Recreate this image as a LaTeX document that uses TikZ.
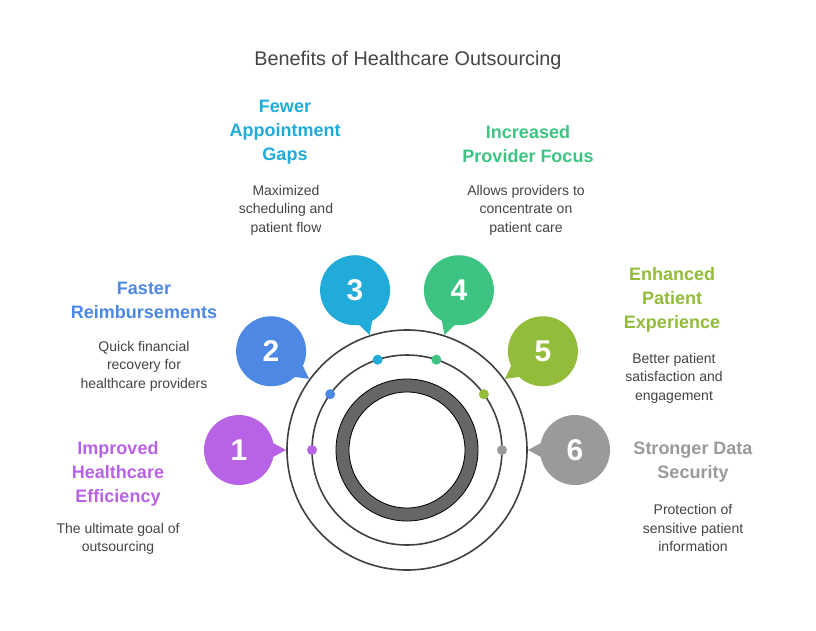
\documentclass[tikz,border=0pt]{standalone}
\usepackage{fontspec}
\usetikzlibrary{calc}
\setmainfont{Liberation Sans}
\definecolor{cA}{HTML}{B862E6}
\definecolor{cB}{HTML}{4C88E4}
\definecolor{cC}{HTML}{21ABD9}
\definecolor{cD}{HTML}{3DC483}
\definecolor{cE}{HTML}{92BC3A}
\definecolor{cF}{HTML}{9A9A9A}
\definecolor{txt}{HTML}{444444}
\begin{document}
\begin{tikzpicture}[x=1pt,y=-1pt,
  head/.style={font=\fontsize{18}{24}\selectfont\bfseries,align=center},
  desc/.style={font=\fontsize{14}{18.5}\selectfont,text=txt,align=center},
  num/.style={font=\fontsize{30}{30}\selectfont\bfseries,text=white}]
\fill[white] (0,0) rectangle (816,630);
\useasboundingbox (0,0) rectangle (816,630);
\coordinate (c) at (407,450);
\node[font=\fontsize{19.8}{24}\selectfont,text=txt] (title) at (408,60) {Benefits of Healthcare Outsourcing};
\draw[line width=1.6pt,draw=black!75] (c) circle[radius=120];
\draw[line width=1.6pt,draw=black!75] (c) circle[radius=95];
\draw[line width=0.8pt,fill=black!60,even odd rule] (c) circle[radius=71] (c) circle[radius=58];
\foreach \i/\a/\col in {1/180/cA,2/144/cB,3/108/cC,4/72/cD,5/36/cE,6/0/cF}{
  \fill[\col] ($(c)+(-\a:168)$) circle[radius=35];
  \fill[\col] ($(c)+(-\a:121)$) -- ($(c)+(-\a+5:145)$) -- ($(c)+(-\a-5:145)$) -- cycle;
  \node[num] (n\i) at ($(c)+(-\a:168)$) {\i};
  \fill[\col] ($(c)+(-\a:95)$) circle[radius=5];
}
\node[head,text=cA] (h1) at (118,474) {Improved\\Healthcare\\Efficiency};
\node[desc] (d1) at (118,539) {The ultimate goal of\\outsourcing};
\node[head,text=cB] (h2) at (144,300) {Faster\\Reimbursements};
\node[desc] (d2) at (144,366) {Quick financial\\recovery for\\healthcare providers};
\node[head,text=cC] (h3) at (285,132) {Fewer\\Appointment\\Gaps};
\node[desc] (d3) at (286,210) {Maximized\\scheduling and\\patient flow};
\node[head,text=cD] (h4) at (528,144) {Increased\\Provider Focus};
\node[desc] (d4) at (526,210) {Allows providers to\\concentrate on\\patient care};
\node[head,text=cE] (h5) at (672,300) {Enhanced\\Patient\\Experience};
\node[desc] (d5) at (674,378) {Better patient\\satisfaction and\\engagement};
\node[head,text=cF] (h6) at (693,462) {Stronger Data\\Security};
\node[desc] (d6) at (693,528) {Protection of\\sensitive patient\\information};
\end{tikzpicture}
\end{document}
